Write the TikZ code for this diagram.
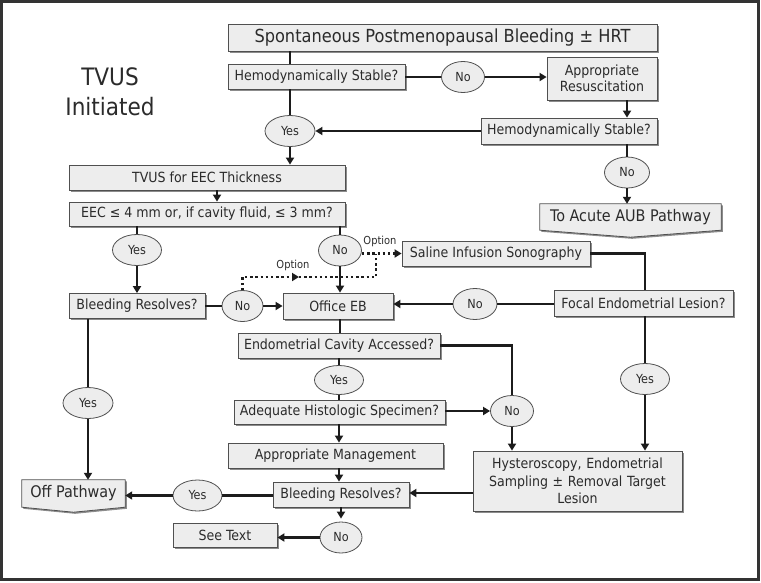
\documentclass[tikz,border=0pt]{standalone}
\usepackage{fontspec}
\setmainfont{DejaVu Sans Condensed}
\usetikzlibrary{arrows.meta,shapes.geometric,shadows}
\pgfdeclarelayer{background}
\pgfsetlayers{background,main}
\definecolor{boxfill}{HTML}{EDEDED}
\definecolor{txt}{HTML}{2B2B2B}
\definecolor{lnc}{HTML}{1C1C1C}
\definecolor{edge}{HTML}{505050}
\begin{document}
\begin{tikzpicture}[x=1pt,y=-1pt,
  shad/.style={drop shadow={shadow xshift=1.6pt,shadow yshift=-1.6pt,fill=black!45,opacity=1}},
  box/.style={draw=edge,line width=0.8pt,fill=boxfill,text=txt,font=\fontsize{14}{16.5}\selectfont,inner sep=0pt,align=center,shad},
  poly/.style={draw=edge,line width=0.8pt,fill=boxfill,shad},
  ptxt/.style={text=txt,font=\fontsize{16}{18}\selectfont,inner sep=0pt},
  ov/.style={ellipse,draw=edge,line width=0.8pt,fill=boxfill,text=txt,font=\fontsize{12.5}{14}\selectfont,inner sep=0pt,minimum height=31pt},
  yesov/.style={ov,minimum width=49pt},
  noov/.style={ov,minimum width=43pt},
  conn/.style={line width=2.4pt,draw=lnc},
  arr/.style={conn,-{Triangle[length=7pt,width=8pt]}},
  dots/.style={line width=2.4pt,draw=lnc,dash pattern=on 2.4pt off 2.8pt},
  dotarr/.style={dots,-{Triangle[length=7pt,width=8pt]}},
  opt/.style={text=txt,font=\fontsize{11}{12}\selectfont,inner sep=0pt},
]
\useasboundingbox (0,0) rectangle (761,582);
\draw[line width=3pt,draw=black!80] (1.5,1.5) rectangle (758.5,579.5);

% title text
\node[text=txt,font=\fontsize{24}{30}\selectfont,align=center,inner sep=0pt] (tvusinit) at (110,92) {TVUS\\Initiated};

% boxes
\node[box,minimum width=429pt,minimum height=27pt,font=\fontsize{18}{20}\selectfont] (title) at (442.5,37.5) {Spontaneous Postmenopausal Bleeding ± HRT};
\node[box,minimum width=177pt,minimum height=25pt] (hemo1) at (316.5,76.5) {Hemodynamically Stable?};
\node[noov] (no1) at (463,77) {No};
\node[box,minimum width=110pt,minimum height=43pt] (resus) at (602,78.5) {Appropriate\\Resuscitation};
\node[box,minimum width=176pt,minimum height=26pt] (hemo2) at (569,131) {Hemodynamically Stable?};
\node[yesov,minimum width=50pt] (yes1) at (290,131) {Yes};
\node[noov,minimum width=45pt] (no2) at (627,172.5) {No};
\node[ptxt,minimum width=181pt,minimum height=26pt] (acute) at (630.5,217) {To Acute AUB Pathway};

\node[box,minimum width=276pt,minimum height=25pt] (tvus) at (207,177.5) {TVUS for EEC Thickness};
\node[box,minimum width=276pt,minimum height=24pt] (eec) at (207,214) {EEC ≤ 4 mm or, if cavity fluid, ≤ 3 mm?};
\node[yesov] (yes2) at (137,250) {Yes};
\node[noov] (no3) at (340,250.5) {No};
\node[box,minimum width=188pt,minimum height=25pt] (saline) at (496,253.5) {Saline Infusion Sonography};
\node[box,minimum width=136pt,minimum height=25pt] (bleed1) at (137,306) {Bleeding Resolves?};
\node[noov,minimum width=41pt] (no4) at (242.5,306) {No};
\node[box,minimum width=110pt,minimum height=26pt] (office) at (338,306) {Office EB};
\node[noov,minimum width=44pt] (no5) at (475,304) {No};
\node[box,minimum width=179pt,minimum height=26pt] (focal) at (643.5,303) {Focal Endometrial Lesion?};
\node[box,minimum width=202pt,minimum height=25pt] (endo) at (339,345.5) {Endometrial Cavity Accessed?};
\node[yesov,minimum height=29pt] (yes3) at (339,380) {Yes};
\node[yesov] (yes5) at (645,379) {Yes};
\node[noov] (no6) at (512,411) {No};
\node[box,minimum width=211pt,minimum height=24pt] (adeq) at (339.5,412) {Adequate Histologic Specimen?};
\node[box,minimum width=209pt,minimum height=60pt,text width=200pt,font=\fontsize{14}{17.5}\selectfont] (hyst) at (577.5,481) {Hysteroscopy, Endometrial\\Sampling ± Removal Target\\Lesion};
\node[yesov,minimum width=50pt] (yes4) at (88,403) {Yes};
\node[box,minimum width=215pt,minimum height=25pt] (appman) at (335.5,455.5) {Appropriate Management};
\node[ptxt,minimum width=103pt,minimum height=27pt] (off) at (73.5,493.5) {Off Pathway};
\node[box,minimum width=136pt,minimum height=25pt] (bleed2) at (341,494.5) {Bleeding Resolves?};
\node[yesov] (yes6) at (197.5,495.5) {Yes};
\node[noov,minimum width=42pt] (no7) at (341,537.5) {No};
\node[box,minimum width=104pt,minimum height=24pt] (seetext) at (225,535) {See Text};

% pentagon shapes
\begin{pgfonlayer}{background}
\path[poly] (acute.north west) -- (acute.north east) -- (acute.south east) -- ([yshift=-7pt]acute.south) -- (acute.south west) -- cycle;
\path[poly] (off.north west) -- (off.north east) -- (off.south east) -- ([yshift=-5pt]off.south) -- (off.south west) -- cycle;
\end{pgfonlayer}

% option labels
\node[opt] (opt1) at (293,265) {Option};
\node[opt] (opt2) at (380,241) {Option};

% connectors
\draw[conn] (title.south -| yes1) -- (hemo1.north -| yes1);
\draw[conn] (hemo1.south -| yes1) -- (yes1.north);
\draw[arr] (yes1.south) -- (tvus.north -| yes1);
\draw[conn] (hemo1.east |- no1) -- (no1.west);
\draw[arr] (no1.east) -- (resus.west |- no1);
\draw[arr] (resus.south -| no2) -- (hemo2.north -| no2);
\draw[arr] (hemo2.west) -- (yes1.east);
\draw[conn] (hemo2.south -| no2) -- (no2.north);
\draw[arr] (no2.south) -- (acute.north -| no2);

\coordinate (tx) at (217,0);
\draw[arr] (tvus.south -| tx) -- (eec.north -| tx);
\draw[conn] (eec.south -| yes2) -- (yes2.north);
\draw[arr] (yes2.south) -- (bleed1.north -| yes2);
\draw[conn] (eec.south -| no3) -- (no3.north);
\draw[arr] (no3.south) -- (office.north -| no3);

\draw[conn] (bleed1.east) -- (no4.west);
\draw[arr] (no4.east) -- (office.west);
\draw[conn] (focal.west |- no5) -- (no5.east);
\draw[arr] (no5.west) -- (office.east |- no5);

\draw[conn] (saline.east) -| (focal.north -| yes5);
\draw[conn] (focal.south -| yes5) -- (yes5.north);
\draw[arr] (yes5.south) -- (hyst.north -| yes5);

\draw[conn] (office.south -| no3) -- (endo.north -| no3);
\draw[conn] (endo.south -| yes3) -- (yes3.north);
\draw[conn] (yes3.south) -- (adeq.north -| yes3);
\draw[conn] (endo.east) -| (no6.north);
\draw[arr] (adeq.east |- no6) -- (no6.west);
\draw[arr] (no6.south) -- (hyst.north -| no6);
\draw[arr] (adeq.south -| yes3) -- (appman.north -| yes3);
\draw[arr] (appman.south -| yes3) -- (bleed2.north -| yes3);
\draw[arr] (hyst.west |- 0,493) -- (bleed2.east |- 0,493);
\draw[conn] (bleed2.west |- yes6) -- (yes6.east);
\draw[arr] (yes6.west) -- (off.east |- yes6);
\draw[conn] (bleed1.south -| yes4) -- (yes4.north);
\draw[arr] (yes4.south) -- (off.north -| yes4);
\draw[arr] (bleed2.south -| no7) -- ([yshift=3pt]no7.north);
\draw[arr] (no7.west) -- (seetext.east |- no7);

% dotted option paths
\coordinate (dlow) at (376,277);
\coordinate (dmid) at (299,277);
\draw[dotarr] (no3.east |- saline) -- (saline.west);
\draw[dotarr] (no4.north) |- (dmid);
\draw[dots] (dmid) -- (dlow) -- (dlow |- saline);
\end{tikzpicture}
\end{document}
